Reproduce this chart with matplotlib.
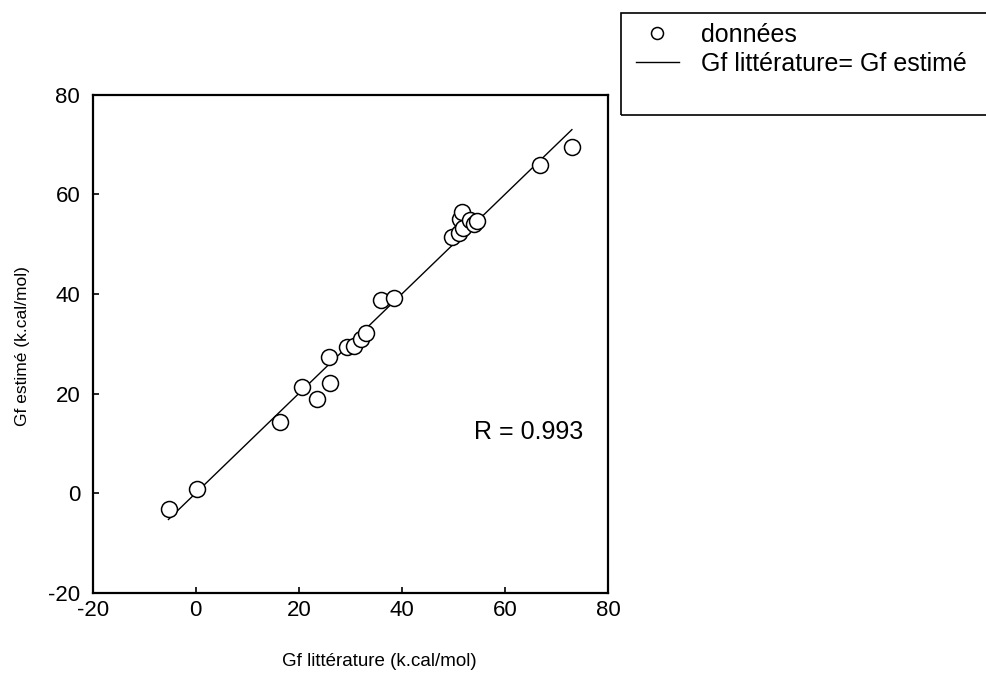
import matplotlib
matplotlib.use("Agg")
import matplotlib.pyplot as plt
from matplotlib.patches import Rectangle

plt.rcParams['font.family'] = ['Liberation Sans', 'DejaVu Sans']
plt.rcParams['axes.unicode_minus'] = False

# values
gf_litterature = [-5.1, 0.3, 16.4, 20.7, 23.5, 25.9, 26.1, 29.4, 30.8, 32.0, 33.1,
                  35.9, 38.5, 49.7, 51.0, 51.3, 51.6, 51.9, 53.2, 54.0, 54.5, 66.9, 73.1]
gf_estime = [-3.2, 0.8, 14.3, 21.4, 18.9, 27.3, 22.2, 29.3, 29.6, 31.0, 32.1,
             38.7, 39.2, 51.5, 52.2, 55.0, 56.5, 53.3, 54.8, 54.0, 54.6, 65.9, 69.6]
line_range = [-5.3, 73.0]
ticks = [-20, 0, 20, 40, 60, 80]
r_text = "R = 0.993"


def draw_graph():
    fig = plt.figure(figsize=(9.86, 6.82), dpi=100)
    ax = fig.add_axes([0.094, 0.131, 0.5226, 0.730])

    pts, = ax.plot(gf_litterature, gf_estime, linestyle='none', marker='o',
                   markersize=11.5, markerfacecolor='white', markeredgecolor='black',
                   markeredgewidth=1.1, label='données', zorder=3)
    ln, = ax.plot(line_range, line_range, color='black', linewidth=1.0,
                  label='Gf littérature= Gf estimé', zorder=2)

    ax.set_xlim(-20, 80)
    ax.set_ylim(-20, 80)
    ax.set_xticks(ticks)
    ax.set_yticks(ticks)
    ax.tick_params(direction='in', length=4, width=1.2, labelsize=16)
    ax.tick_params(axis='x', pad=5)
    ax.tick_params(axis='y', pad=9)
    for s in ax.spines.values():
        s.set_linewidth(1.6)

    # axis titles, placed as in the scan
    fig.text(379 / 986, 1 - 661 / 682, 'Gf littérature (k.cal/mol)',
             fontsize=13.5, ha='center', va='center')
    fig.text(23 / 986, 1 - 346 / 682, 'Gf estimé (k.cal/mol)',
             fontsize=12.5, ha='center', va='center', rotation=90)

    ax.text(54.0, 12.3, r_text, fontsize=18, va='center', ha='left')

    # legend box in the top right corner, running off the right edge
    box = Rectangle((621 / 986, 1 - 115 / 682), 0.5, (115 - 13) / 682,
                    transform=fig.transFigure, fill=False, edgecolor='black',
                    linewidth=1.2, clip_on=False)
    fig.patches.append(box)
    fig.legend(handles=[pts, ln], loc='upper left',
               bbox_to_anchor=(636 / 986, 1 - 23 / 682), fontsize=18,
               frameon=False, handlelength=1.7, handletextpad=0.9,
               borderpad=0, labelspacing=0.2, borderaxespad=0,
               markerscale=0.75)

    fig.savefig('out.png', dpi=100)


if __name__ == '__main__':
    draw_graph()
